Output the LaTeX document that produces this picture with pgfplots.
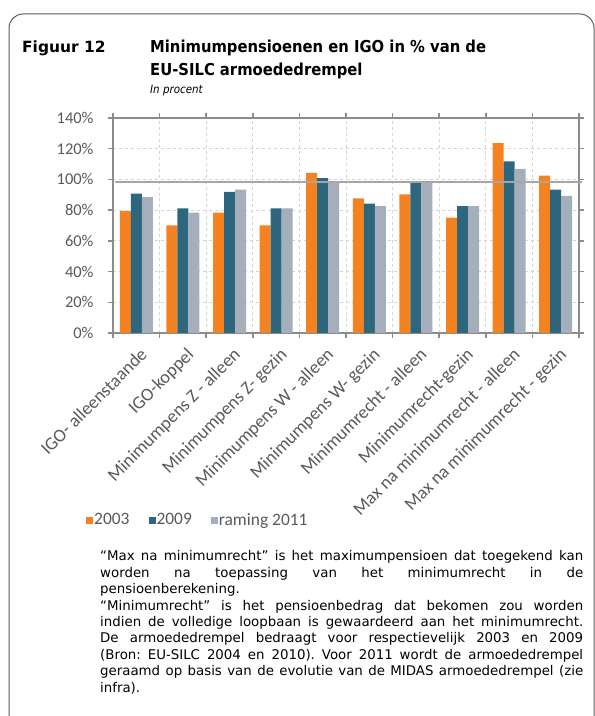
\documentclass[border=0pt]{standalone}
\usepackage{pgfplots}
\pgfplotsset{compat=1.18}
\usepackage{fontspec}
\setmainfont{DejaVu Sans}
\newfontfamily\condb{DejaVu Sans Condensed}
\newfontfamily\calib{Carlito}
\definecolor{c03}{HTML}{F58220}
\definecolor{c09}{HTML}{2D667D}
\definecolor{c11}{HTML}{A5AFBC}
\definecolor{gridc}{HTML}{D4D4D4}
\definecolor{axisc}{HTML}{8C8C8C}
\definecolor{refc}{HTML}{A6A6A6}
\definecolor{labc}{HTML}{595959}
\definecolor{framec}{HTML}{5A5A5A}
\pgfplotsset{sqleg/.style={legend image code/.code={\fill[##1] (0bp,-3.5bp) rectangle (7bp,3.5bp);}}}
\newcommand{\bodyfont}{\fontsize{13.4}{16}\selectfont}
\newcommand{\titlefont}{\condb\bfseries\fontsize{16.5}{19}\selectfont}
\frenchspacing
\begin{document}
\begin{tikzpicture}
\draw[framec, line width=1bp, rounded corners=14bp] (9bp,-30bp) -- (9bp,702bp) -- (594bp,702bp) -- (594bp,-30bp);
\node[anchor=base west, inner sep=0, font=\bfseries\fontsize{15.5}{19}\selectfont] at (22bp,663bp) {Figuur 12};
\node[anchor=base west, inner sep=0, font=\titlefont] at (150bp,663bp) {Minimumpensioenen en IGO in \% van de};
\node[anchor=base west, inner sep=0, font=\titlefont] at (150bp,640bp) {EU-SILC armoededrempel};
\node[anchor=base west, inner sep=0, font=\condb\fontsize{11.5}{13}\selectfont\itshape] at (150bp,622bp) {In procent};
\begin{axis}[
  at={(113bp,383bp)}, anchor=south west,
  width=466bp, height=215bp, scale only axis,
  xmin=-0.5, xmax=9.5, ymin=0, ymax=140,
  ybar=0pt, bar width=11bp,
  clip=false,
  axis line style={line width=1.8bp, color=axisc},
  ytick={0,20,...,140},
  yticklabels={0\%,20\%,40\%,60\%,80\%,100\%,120\%,140\%},
  xtick={0,...,9},
  xticklabels={IGO- alleenstaande,IGO-koppel,Minimumpens Z - alleen,Minimumpens Z- gezin,Minimumpens W - alleen,Minimumpens W- gezin,Minimumrecht - alleen,Minimumrecht-gezin,Max na minimumrecht - alleen,Max na minimumrecht - gezin},
  minor xtick={-0.5,0.5,...,9.5},
  major x tick style={draw=none},
  tick align=outside,
  major tick length=5bp, minor tick length=5bp,
  tick style={line width=1.5bp, color=axisc},
  ymajorgrids, xminorgrids,
  grid style={dashed, color=gridc, line width=0.9bp},
  yticklabel style={font=\calib\fontsize{16.5}{17}\selectfont, text=labc, xshift=-11bp},
  xticklabel style={font=\calib\fontsize{18.3}{19}\selectfont, text=labc, rotate=45, anchor=north east, inner sep=1bp, xshift=-3bp, yshift=-7bp},
  legend columns=3,
  legend style={at={(-0.058,-0.87)}, anchor=west, draw=none, fill=none, inner sep=0pt,
    font=\calib\fontsize{17.5}{18}\selectfont, text=labc,
    nodes={inner sep=1bp},
    /tikz/every even column/.append style={column sep=18bp}},
]
\addplot[fill=c03, draw=none, sqleg] coordinates {(0,79.4) (1,70.1) (2,78.3) (3,70.1) (4,104.2) (5,87.6) (6,90.2) (7,75.2) (8,123.7) (9,102.5)};
\addplot[fill=c09, draw=none, sqleg] coordinates {(0,90.8) (1,81.1) (2,91.9) (3,81.1) (4,100.8) (5,84.3) (6,98.4) (7,82.6) (8,111.8) (9,93.4)};
\addplot[fill=c11, draw=none, sqleg] coordinates {(0,88.4) (1,78.3) (2,93.4) (3,81.1) (4,98.8) (5,82.6) (6,98.8) (7,82.6) (8,106.8) (9,89.3)};
\legend{2003,2009,raming 2011}
\addplot[forget plot, sharp plot, line width=2bp, refc] coordinates {(-0.45,98.6) (9.57,98.6)};
\end{axis}
\node[anchor=base west, inner sep=0, font=\bodyfont] at (100bp,155bp) {\makebox[483bp][s]{“Max na minimumrecht” is het maximumpensioen dat toegekend kan}};
\node[anchor=base west, inner sep=0, font=\bodyfont] at (100bp,138.6bp) {\makebox[483bp][s]{worden na toepassing van het minimumrecht in de}};
\node[anchor=base west, inner sep=0, font=\bodyfont] at (100bp,122.2bp) {pensioenberekening.};
\node[anchor=base west, inner sep=0, font=\bodyfont] at (100bp,105.8bp) {\makebox[483bp][s]{“Minimumrecht” is het pensioenbedrag dat bekomen zou worden}};
\node[anchor=base west, inner sep=0, font=\bodyfont] at (100bp,89.4bp) {\makebox[483bp][s]{indien de volledige loopbaan is gewaardeerd aan het minimumrecht.}};
\node[anchor=base west, inner sep=0, font=\bodyfont] at (100bp,73bp) {\makebox[483bp][s]{De armoededrempel bedraagt voor respectievelijk 2003 en 2009}};
\node[anchor=base west, inner sep=0, font=\bodyfont] at (100bp,56.6bp) {\makebox[483bp][s]{(Bron: EU-SILC 2004 en 2010). Voor 2011 wordt de armoededrempel}};
\node[anchor=base west, inner sep=0, font=\bodyfont] at (100bp,40.2bp) {\makebox[483bp][s]{geraamd op basis van de evolutie van de MIDAS armoededrempel (zie}};
\node[anchor=base west, inner sep=0, font=\bodyfont] at (100bp,23.8bp) {infra).};
\pgfresetboundingbox
\useasboundingbox (0bp,0bp) rectangle (595bp,716bp);
\end{tikzpicture}
\end{document}
